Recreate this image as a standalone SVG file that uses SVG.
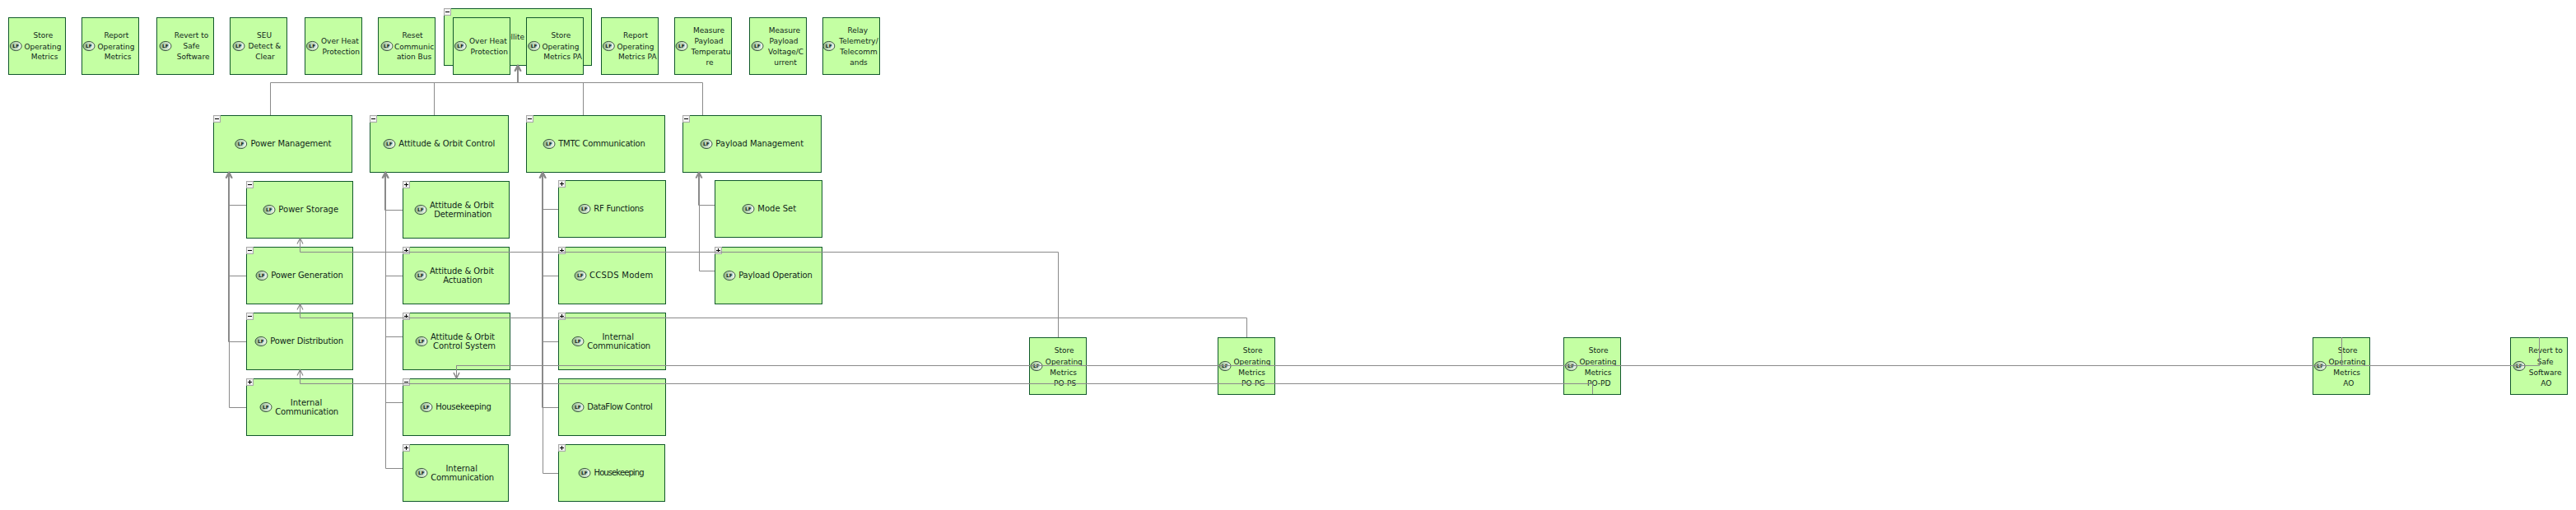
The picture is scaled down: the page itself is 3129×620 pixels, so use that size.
<svg xmlns="http://www.w3.org/2000/svg" width="3129" height="620" viewBox="0 0 3129 620">
<style>
.b{fill:#c4ffa3;stroke:#11592b;stroke-width:1}
.t,.s,.f{font-family:"DejaVu Sans",sans-serif;fill:#10261a;text-anchor:middle}
.t{font-size:10px}
.s{font-size:9px}
.f{font-size:6px;font-weight:bold}
.c{fill:none;stroke:#8a8a8a;stroke-width:1}
.a{marker-end:url(#h)}
</style>
<defs>
<linearGradient id="g"><stop offset="0" stop-color="#8fb88a"/><stop offset="1" stop-color="#f6fbf2"/></linearGradient>
<marker id="h" markerUnits="userSpaceOnUse" markerWidth="12" markerHeight="12" refX="10" refY="6" orient="auto"><path d="M3,2.5 L10,6 L3,9.5" fill="none" stroke="#8a8a8a" stroke-width="1.2"/></marker>
<g id="lf"><ellipse cx="0" cy="0" rx="7" ry="5.6" fill="url(#g)" stroke="#2f4a36" stroke-width="0.9"/></g>
<g id="mi"><rect x="0.5" y="0.5" width="8" height="8" fill="#f2f2f2" stroke="#a8a8a8"/><path d="M2,4.5 H7" stroke="#000" stroke-width="1"/></g>
<g id="pl"><rect x="0.5" y="0.5" width="8" height="8" fill="#f2f2f2" stroke="#a8a8a8"/><path d="M2,4.5 H7 M4.5,2 V7" stroke="#000" stroke-width="1"/></g>
</defs>
<rect width="3129" height="620" fill="#fff"/>
<g id="nodes">
<g id="n1"><rect class="b" x="10.5" y="21.5" width="69" height="69"/><use href="#lf" x="19.3" y="56"/><text class="f" x="19.3" y="58">LF</text><text class="s" x="52.5" y="46">Store</text><text class="s" x="52" y="59.5">Operating</text><text class="s" x="54" y="72">Metrics</text></g>
<g id="n2"><rect class="b" x="99.5" y="21.5" width="69" height="69"/><use href="#lf" x="108" y="56"/><text class="f" x="108" y="58">LF</text><text class="s" x="141.4" y="46">Report</text><text class="s" x="141" y="59.5">Operating</text><text class="s" x="143" y="72">Metrics</text></g>
<g id="n3"><rect class="b" x="190.5" y="21.5" width="69" height="69"/><use href="#lf" x="201" y="56"/><text class="f" x="201" y="58">LF</text><text class="s" x="232.5" y="46">Revert to</text><text class="s" x="232.5" y="59">Safe</text><text class="s" x="234.6" y="72">Software</text></g>
<g id="n4"><rect class="b" x="279.5" y="21.5" width="69" height="69"/><use href="#lf" x="290" y="56"/><text class="f" x="290" y="58">LF</text><text class="s" x="321" y="46">SEU</text><text class="s" x="321.4" y="59">Detect &amp;</text><text class="s" x="322" y="72">Clear</text></g>
<g id="n5"><rect class="b" x="370.5" y="21.5" width="69" height="69"/><use href="#lf" x="379.3" y="56"/><text class="f" x="379.3" y="58">LF</text><text class="s" x="412.9" y="53">Over Heat</text><text class="s" x="414.3" y="66">Protection</text></g>
<g id="n6"><rect class="b" x="459.5" y="21.5" width="69" height="69"/><use href="#lf" x="470" y="56"/><text class="f" x="470" y="58">LF</text><text class="s" x="501" y="46">Reset</text><text class="s" x="503" y="59.5">Communic</text><text class="s" x="503" y="72">ation Bus</text></g>
<g id="satellite"><rect class="b" x="539.5" y="10.5" width="179" height="69"/><use href="#mi" x="539" y="10"/><text class="s" x="637" y="48" style="text-anchor:end">Satellite</text></g>
<g id="n7"><rect class="b" x="550.5" y="21.5" width="69" height="69"/><use href="#lf" x="559.3" y="56"/><text class="f" x="559.3" y="58">LF</text><text class="s" x="592.9" y="53">Over Heat</text><text class="s" x="594.3" y="66">Protection</text></g>
<g id="n8"><rect class="b" x="639.5" y="21.5" width="69" height="69"/><use href="#lf" x="648.6" y="56"/><text class="f" x="648.6" y="58">LF</text><text class="s" x="681.4" y="46">Store</text><text class="s" x="681" y="59.5">Operating</text><text class="s" x="683.6" y="72">Metrics PA</text></g>
<g id="n9"><rect class="b" x="730.5" y="21.5" width="69" height="69"/><use href="#lf" x="739.3" y="56"/><text class="f" x="739.3" y="58">LF</text><text class="s" x="772" y="46">Report</text><text class="s" x="772" y="59.5">Operating</text><text class="s" x="774.3" y="72">Metrics PA</text></g>
<g id="n10"><rect class="b" x="819.5" y="21.5" width="69" height="69"/><use href="#lf" x="828" y="56"/><text class="f" x="828" y="58">LF</text><text class="s" x="861" y="40">Measure</text><text class="s" x="861" y="53">Payload</text><text class="s" x="863.6" y="66">Temperatu</text><text class="s" x="862" y="79">re</text></g>
<g id="n11"><rect class="b" x="910.5" y="21.5" width="69" height="69"/><use href="#lf" x="920" y="56"/><text class="f" x="920" y="58">LF</text><text class="s" x="952.9" y="40">Measure</text><text class="s" x="952" y="53">Payload</text><text class="s" x="954.6" y="66">Voltage/C</text><text class="s" x="954" y="79">urrent</text></g>
<g id="n12"><rect class="b" x="999.5" y="21.5" width="69" height="69"/><use href="#lf" x="1006.8" y="56"/><text class="f" x="1006.8" y="58">LF</text><text class="s" x="1041.8" y="40">Relay</text><text class="s" x="1043" y="53">Telemetry/</text><text class="s" x="1043" y="66">Telecomm</text><text class="s" x="1043" y="79">ands</text></g>

<g id="pm"><rect class="b" x="259.5" y="140.5" width="168" height="69"/><use href="#mi" x="259" y="140"/><use href="#lf" x="292.7" y="175"/><text class="f" x="292.7" y="177">LF</text><text class="t" x="353.5" y="178" textLength="98">Power Management</text></g>
<g id="ao"><rect class="b" x="449.5" y="140.5" width="168" height="69"/><use href="#mi" x="449" y="140"/><use href="#lf" x="473" y="175"/><text class="f" x="473" y="177">LF</text><text class="t" x="542.8" y="178" textLength="117">Attitude &amp; Orbit Control</text></g>
<g id="tm"><rect class="b" x="639.5" y="140.5" width="168" height="69"/><use href="#mi" x="639" y="140"/><use href="#lf" x="667" y="175"/><text class="f" x="667" y="177">LF</text><text class="t" x="731" y="178" textLength="105.7">TMTC Communication</text></g>
<g id="pl1"><rect class="b" x="829.5" y="140.5" width="168" height="69"/><use href="#mi" x="829" y="140"/><use href="#lf" x="858" y="175"/><text class="f" x="858" y="177">LF</text><text class="t" x="922.7" y="178" textLength="106.7">Payload Management</text></g>

<g id="ps"><rect class="b" x="299.5" y="220.5" width="129" height="69"/><use href="#mi" x="299" y="220"/><use href="#lf" x="327" y="255"/><text class="f" x="327" y="257">LF</text><text class="t" x="374.7" y="258" textLength="72.7">Power Storage</text></g>
<g id="pg"><rect class="b" x="299.5" y="300.5" width="129" height="69"/><use href="#mi" x="299" y="300"/><use href="#lf" x="318" y="335"/><text class="f" x="318" y="337">LF</text><text class="t" x="373" y="338" textLength="87.7">Power Generation</text></g>
<g id="pd"><rect class="b" x="299.5" y="380.5" width="129" height="69"/><use href="#mi" x="299" y="380"/><use href="#lf" x="317" y="415"/><text class="f" x="317" y="417">LF</text><text class="t" x="372.7" y="418" textLength="88.7">Power Distribution</text></g>
<g id="pi"><rect class="b" x="299.5" y="460.5" width="129" height="69"/><use href="#pl" x="299" y="460"/><use href="#lf" x="323" y="495"/><text class="f" x="323" y="497">LF</text><text class="t" x="372" y="493">Internal</text><text class="t" x="372.7" y="504" textLength="77">Communication</text></g>

<g id="ad"><rect class="b" x="489.5" y="220.5" width="129" height="69"/><use href="#pl" x="489" y="220"/><use href="#lf" x="511" y="255"/><text class="f" x="511" y="257">LF</text><text class="t" x="561" y="253" textLength="78">Attitude &amp; Orbit</text><text class="t" x="562.3" y="264" textLength="70">Determination</text></g>
<g id="aa"><rect class="b" x="489.5" y="300.5" width="129" height="69"/><use href="#pl" x="489" y="300"/><use href="#lf" x="511" y="335"/><text class="f" x="511" y="337">LF</text><text class="t" x="561" y="333" textLength="78">Attitude &amp; Orbit</text><text class="t" x="562" y="344">Actuation</text></g>
<g id="ac"><rect class="b" x="489.5" y="380.5" width="130" height="69"/><use href="#pl" x="489" y="380"/><use href="#lf" x="512" y="415"/><text class="f" x="512" y="417">LF</text><text class="t" x="562" y="413" textLength="78">Attitude &amp; Orbit</text><text class="t" x="564" y="424" textLength="76">Control System</text></g>
<g id="ah"><rect class="b" x="489.5" y="460.5" width="130" height="69"/><use href="#mi" x="489" y="460"/><use href="#lf" x="518" y="495"/><text class="f" x="518" y="497">LF</text><text class="t" x="563" y="498" textLength="67.7">Housekeeping</text></g>
<g id="ai"><rect class="b" x="489.5" y="540.5" width="128" height="69"/><use href="#pl" x="489" y="540"/><use href="#lf" x="512" y="575"/><text class="f" x="512" y="577">LF</text><text class="t" x="560.7" y="573">Internal</text><text class="t" x="561.7" y="584" textLength="77">Communication</text></g>

<g id="rf"><rect class="b" x="678.5" y="219.5" width="130" height="69"/><use href="#pl" x="678" y="219"/><use href="#lf" x="710" y="254"/><text class="f" x="710" y="256">LF</text><text class="t" x="751.7" y="257" textLength="60.7">RF Functions</text></g>
<g id="cc"><rect class="b" x="678.5" y="300.5" width="130" height="69"/><use href="#pl" x="678" y="300"/><use href="#lf" x="705" y="335"/><text class="f" x="705" y="337">LF</text><text class="t" x="754.7" y="338" textLength="77.3">CCSDS Modem</text></g>
<g id="ti"><rect class="b" x="678.5" y="380.5" width="130" height="69"/><use href="#pl" x="678" y="380"/><use href="#lf" x="702" y="415"/><text class="f" x="702" y="417">LF</text><text class="t" x="750.7" y="413">Internal</text><text class="t" x="751.7" y="424" textLength="77">Communication</text></g>
<g id="df"><rect class="b" x="678.5" y="460.5" width="130" height="69"/><use href="#lf" x="702" y="495"/><text class="f" x="702" y="497">LF</text><text class="t" x="753" y="498" textLength="79.7">DataFlow Control</text></g>
<g id="th"><rect class="b" x="678.5" y="540.5" width="129" height="69"/><use href="#pl" x="678" y="540"/><use href="#lf" x="710" y="575"/><text class="f" x="710" y="577">LF</text><text class="t" x="752" y="578" textLength="61">Housekeeping</text></g>

<g id="ms"><rect class="b" x="868.5" y="219.5" width="130" height="69"/><use href="#lf" x="909" y="254"/><text class="f" x="909" y="256">LF</text><text class="t" x="943.7" y="257" textLength="46.7">Mode Set</text></g>
<g id="po"><rect class="b" x="868.5" y="300.5" width="130" height="69"/><use href="#pl" x="868" y="300"/><use href="#lf" x="886" y="335"/><text class="f" x="886" y="337">LF</text><text class="t" x="942" y="338" textLength="89.7">Payload Operation</text></g>

<g id="pops"><rect class="b" x="1250.5" y="410.5" width="69" height="69"/><use href="#lf" x="1259" y="445"/><text class="f" x="1259" y="447">LF</text><text class="s" x="1292.7" y="429">Store</text><text class="s" x="1292.3" y="442.5">Operating</text><text class="s" x="1291.7" y="455.5">Metrics</text><text class="s" x="1293.7" y="468.5">PO-PS</text></g>
<g id="popg"><rect class="b" x="1479.5" y="410.5" width="69" height="69"/><use href="#lf" x="1488" y="445"/><text class="f" x="1488" y="447">LF</text><text class="s" x="1521.7" y="429">Store</text><text class="s" x="1521" y="442.5">Operating</text><text class="s" x="1520.7" y="455.5">Metrics</text><text class="s" x="1522.3" y="468.5">PO-PG</text></g>
<g id="popd"><rect class="b" x="1899.5" y="410.5" width="69" height="69"/><use href="#lf" x="1908.3" y="445"/><text class="f" x="1908.3" y="447">LF</text><text class="s" x="1941.7" y="429">Store</text><text class="s" x="1941" y="442.5">Operating</text><text class="s" x="1941" y="455.5">Metrics</text><text class="s" x="1942.3" y="468.5">PO-PD</text></g>
<g id="smao"><rect class="b" x="2809.5" y="410.5" width="69" height="69"/><use href="#lf" x="2818.3" y="445"/><text class="f" x="2818.3" y="447">LF</text><text class="s" x="2851.7" y="429">Store</text><text class="s" x="2851" y="442.5">Operating</text><text class="s" x="2850.7" y="455.5">Metrics</text><text class="s" x="2852.7" y="468.5">AO</text></g>
<g id="rsao"><rect class="b" x="3049.5" y="410.5" width="69" height="69"/><use href="#lf" x="3060" y="445"/><text class="f" x="3060" y="447">LF</text><text class="s" x="3092" y="429">Revert to</text><text class="s" x="3091.7" y="442.5">Safe</text><text class="s" x="3091.7" y="455.5">Software</text><text class="s" x="3092.7" y="468.5">AO</text></g>
</g>

<g id="connectors">
<path class="c a" d="M328.5,140 V100.5 H628.5 V79.5"/>
<path class="c a" d="M527.5,140 V100.5 H628.5 V79.5"/>
<path class="c a" d="M708.5,140 V100.5 H629.5 V79.5"/>
<path class="c a" d="M853.5,140 V100.5 H629.5 V79.5"/>

<path class="c a" d="M299,249.5 H278.5 V209.5"/>
<path class="c a" d="M299,335.5 H278.5 V209.5"/>
<path class="c a" d="M299,415.5 H277.5 V209.5"/>
<path class="c a" d="M299,495.5 H278.5 V209.5"/>

<path class="c a" d="M489,255.5 H467.5 V209.5"/>
<path class="c a" d="M489,335.5 H468.5 V209.5"/>
<path class="c a" d="M489,409.5 H468.5 V209.5"/>
<path class="c a" d="M489,489.5 H468.5 V209.5"/>
<path class="c a" d="M489,569.5 H468.5 V209.5"/>

<path class="c a" d="M678,254.5 H659.5 V209.5"/>
<path class="c a" d="M678,335.5 H659.5 V209.5"/>
<path class="c a" d="M678,415.5 H659.5 V209.5"/>
<path class="c a" d="M678,495.5 H658.5 V209.5"/>
<path class="c a" d="M678,575.5 H659.5 V209.5"/>

<path class="c a" d="M868,249.5 H848.5 V209.5"/>
<path class="c a" d="M868,329.5 H849.5 V209.5"/>

<path class="c a" d="M1285.5,410 V306.5 H364.5 V289.5"/>
<path class="c a" d="M1514.5,410 V386.5 H364.5 V369.5"/>
<path class="c a" d="M1934.5,479 V466.5 H364.5 V449.5"/>
<path class="c a" d="M2844.5,410 V444.5 H554.5 V460"/>
<path class="c a" d="M3084.5,410 V444.5 H554.5 V460"/>
</g>
</svg>
